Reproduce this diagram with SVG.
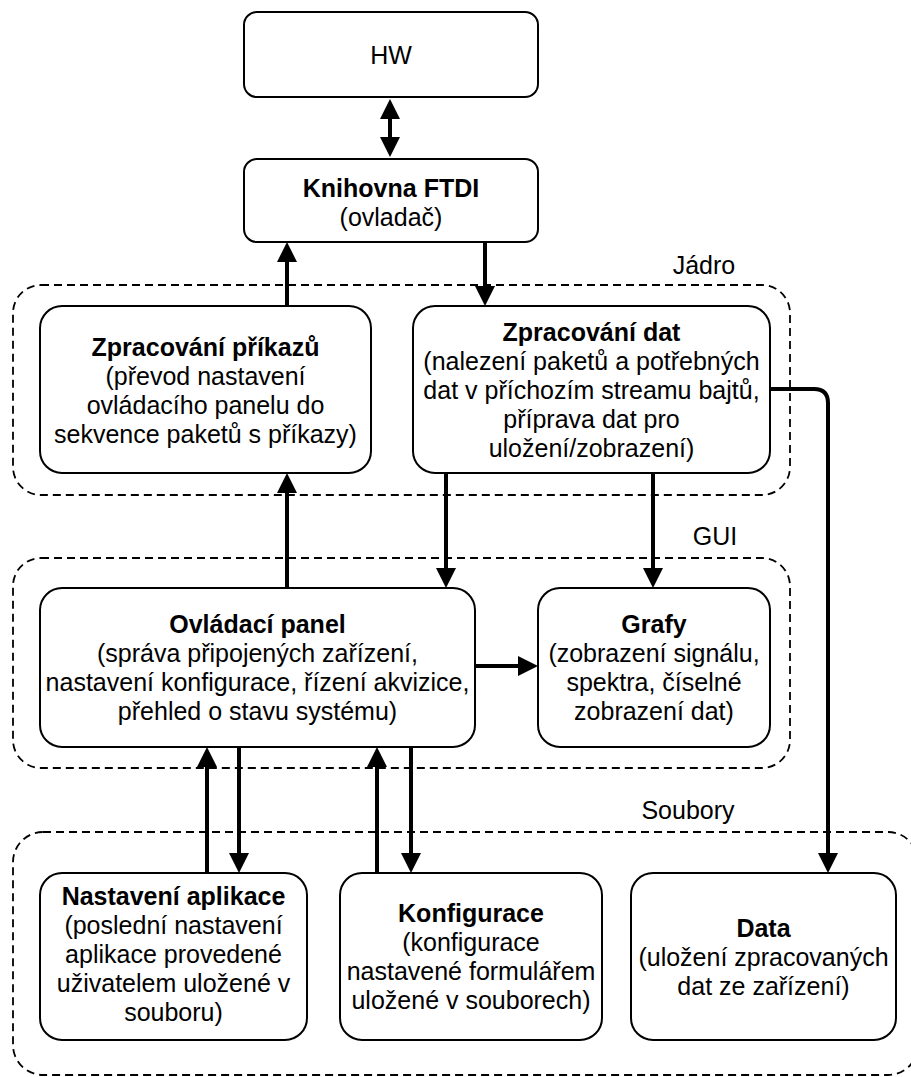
<svg xmlns="http://www.w3.org/2000/svg" width="911" height="1077" viewBox="0 0 911 1077">
  <style>
    .box { fill: #ffffff; stroke: #000000; stroke-width: 2; }
    .grp { fill: none; stroke: #000000; stroke-width: 1.8; stroke-dasharray: 8 5; }
    .t { font-family: "Liberation Sans", Arial, Helvetica, sans-serif; font-size: 25px; fill: #000000; text-anchor: middle; }
    .b { font-weight: bold; }
    .edge { fill: none; stroke: #000000; stroke-width: 4; }
  </style>
  <defs>
    <marker id="arrow" viewBox="0 0 20 20" markerUnits="userSpaceOnUse" markerWidth="20" markerHeight="20" refX="12" refY="10" orient="auto-start-reverse">
      <path d="M0,0 L20,10 L0,20 z" fill="#000000"/>
    </marker>
  </defs>

  <rect width="911" height="1077" fill="#ffffff"/>

  <!-- layer containers -->
  <g id="group-jadro">
    <rect class="grp" x="13" y="285" width="777" height="210" rx="28"/>
    <text class="t" x="704" y="274">Jádro</text>
  </g>
  <g id="group-gui">
    <rect class="grp" x="13" y="558" width="777" height="210" rx="28"/>
    <text class="t" x="715" y="545">GUI</text>
  </g>
  <g id="group-soubory">
    <rect class="grp" x="13" y="832" width="905" height="243" rx="30"/>
    <text class="t" x="688" y="819">Soubory</text>
  </g>

  <!-- connectors -->
  <g id="connectors">
    <line class="edge" x1="390" y1="107" x2="390" y2="149" marker-start="url(#arrow)" marker-end="url(#arrow)"/>
    <line class="edge" x1="287" y1="306" x2="287" y2="250" marker-end="url(#arrow)"/>
    <line class="edge" x1="485" y1="242" x2="485" y2="298" marker-end="url(#arrow)"/>
    <line class="edge" x1="287" y1="588" x2="287" y2="481" marker-end="url(#arrow)"/>
    <line class="edge" x1="446" y1="473" x2="446" y2="580" marker-end="url(#arrow)"/>
    <line class="edge" x1="653" y1="473" x2="653" y2="580" marker-end="url(#arrow)"/>
    <line class="edge" x1="475" y1="666" x2="530" y2="666" marker-end="url(#arrow)"/>
    <path class="edge" d="M770,389 H814 Q828,389 828,403 V865" marker-end="url(#arrow)"/>
    <line class="edge" x1="207" y1="873" x2="207" y2="755" marker-end="url(#arrow)"/>
    <line class="edge" x1="239" y1="747" x2="239" y2="865" marker-end="url(#arrow)"/>
    <line class="edge" x1="377" y1="873" x2="377" y2="755" marker-end="url(#arrow)"/>
    <line class="edge" x1="411" y1="747" x2="411" y2="865" marker-end="url(#arrow)"/>
  </g>

  <!-- nodes -->
  <g id="node-hw">
    <rect class="box" x="244" y="12" width="294" height="85" rx="13"/>
    <text class="t" x="391" y="64">HW</text>
  </g>
  <g id="node-ftdi">
    <rect class="box" x="244" y="159" width="294" height="83" rx="13"/>
    <text class="t b" x="391" y="197">Knihovna FTDI</text>
    <text class="t" x="391" y="226">(ovladač)</text>
  </g>
  <g id="node-prikazy">
    <rect class="box" x="40" y="306" width="331" height="167" rx="22"/>
    <text class="t b" x="205.5" y="356">Zpracování příkazů</text>
    <text class="t" x="205.5" y="385">(převod nastavení</text>
    <text class="t" x="205.5" y="414">ovládacího panelu do</text>
    <text class="t" x="205.5" y="443">sekvence paketů s příkazy)</text>
  </g>
  <g id="node-data-proc">
    <rect class="box" x="413" y="306" width="357" height="167" rx="22"/>
    <text class="t b" x="591.5" y="341">Zpracování dat</text>
    <text class="t" x="591.5" y="370">(nalezení paketů a potřebných</text>
    <text class="t" x="591.5" y="399">dat v příchozím streamu bajtů,</text>
    <text class="t" x="591.5" y="428">příprava dat pro</text>
    <text class="t" x="591.5" y="457">uložení/zobrazení)</text>
  </g>
  <g id="node-panel">
    <rect class="box" x="40" y="588" width="435" height="159" rx="22"/>
    <text class="t b" x="257.5" y="633">Ovládací panel</text>
    <text class="t" x="257.5" y="662">(správa připojených zařízení,</text>
    <text class="t" x="257.5" y="691">nastavení konfigurace, řízení akvizice,</text>
    <text class="t" x="257.5" y="720">přehled o stavu systému)</text>
  </g>
  <g id="node-grafy">
    <rect class="box" x="538" y="588" width="232" height="159" rx="22"/>
    <text class="t b" x="654" y="633">Grafy</text>
    <text class="t" x="654" y="662">(zobrazení signálu,</text>
    <text class="t" x="654" y="691">spektra, číselné</text>
    <text class="t" x="654" y="720">zobrazení dat)</text>
  </g>
  <g id="node-nastaveni">
    <rect class="box" x="40" y="873" width="267" height="167" rx="22"/>
    <text class="t b" x="173.5" y="905">Nastavení aplikace</text>
    <text class="t" x="173.5" y="934">(poslední nastavení</text>
    <text class="t" x="173.5" y="963">aplikace provedené</text>
    <text class="t" x="173.5" y="992">uživatelem uložené v</text>
    <text class="t" x="173.5" y="1021">souboru)</text>
  </g>
  <g id="node-konfigurace">
    <rect class="box" x="340" y="873" width="262" height="167" rx="22"/>
    <text class="t b" x="471" y="922">Konfigurace</text>
    <text class="t" x="471" y="951">(konfigurace</text>
    <text class="t" x="471" y="980">nastavené formulářem</text>
    <text class="t" x="471" y="1009">uložené v souborech)</text>
  </g>
  <g id="node-data">
    <rect class="box" x="631" y="873" width="265" height="167" rx="22"/>
    <text class="t b" x="763.5" y="937">Data</text>
    <text class="t" x="763.5" y="966">(uložení zpracovaných</text>
    <text class="t" x="763.5" y="995">dat ze zařízení)</text>
  </g>
</svg>
